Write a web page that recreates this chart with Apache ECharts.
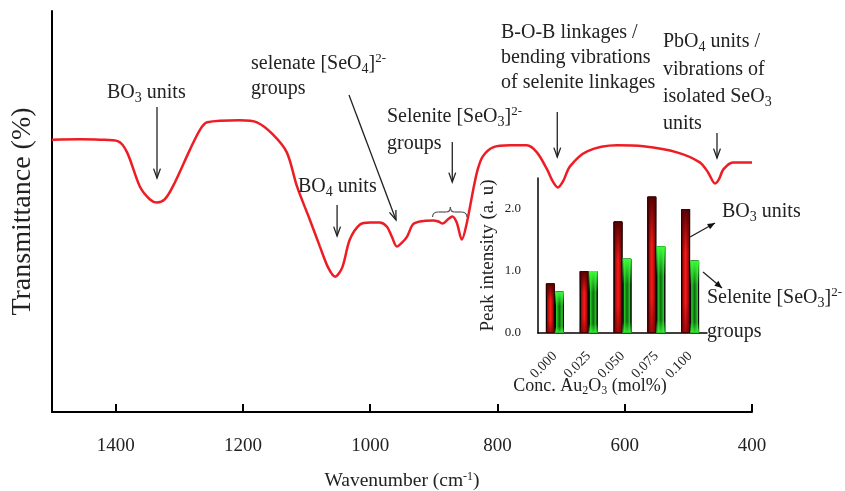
<!DOCTYPE html>
<html><head><meta charset="utf-8">
<script src="https://cdn.jsdelivr.net/npm/echarts@6/dist/echarts.min.js"></script>
<style>html,body{margin:0;padding:0;background:#fff}#c{width:845px;height:491px}</style>
</head><body><div id="c"></div>
<script>
// FTIR spectrum (wavenumber in cm-1, transmittance in arbitrary %)
const wavenumbers = [1500,1456,1425,1396,1382,1362,1346,1335,1323,1310,1283,1267,1256,1205,1178,1153,1131,1115,1095,1079,1066,1055,1044,1032,1016,1000,985,974,966,958,950,942,933,922,901,893,886,878,871,864,856,848,838,831,823,807,780,754,738,722,713,705,697,686,659,612,571,518,482,469,458,452,445,430,400];
const transmittance = [67.9,68,67.9,67.5,64.75,56.25,53,52.25,53,56.25,65.5,70.5,72.25,72.75,72.25,69.25,64.75,56.25,48,41.25,36,33.75,36,43,46.75,47.25,47.25,46.25,43.75,41.25,42.25,43.75,46.75,47.5,47.75,47.5,47,48,48.75,47.25,43,47.25,55.5,60.5,63.75,66,66.5,66.5,64.75,60.5,57.5,56,57.5,61.25,65,66.5,66.25,64.75,62.25,59.75,57,58,60.5,62.25,62.25];
const xTickLabels = ['400','600','800','1000','1200','1400'];

// Inset bar chart
const concLabels = ['0.000','0.025','0.050','0.075','0.100'];
const bo3Intensity = [0.8,1.0,1.8,2.2,2.0];
const seo3Intensity = [0.67,1.0,1.2,1.4,1.17];

const FONT = 'Liberation Serif';
const chart = echarts.init(document.getElementById('c'), null, {renderer:'canvas'});
const G = echarts.graphic;

const redBase = new G.LinearGradient(0,0,1,0,[{offset:0,color:'#6a0000'},{offset:0.5,color:'#ff1a1a'},{offset:1,color:'#6a0000'}]);
const redOver = new G.LinearGradient(0,0,0,1,[{offset:0,color:'rgba(80,0,0,0.95)'},{offset:0.35,color:'rgba(80,0,0,0)'},{offset:0.75,color:'rgba(90,0,0,0)'},{offset:1,color:'rgba(110,0,0,0.6)'}]);
const greenBase = new G.LinearGradient(0,0,1,0,[{offset:0,color:'#3cff3c'},{offset:0.5,color:'#0b6a0b'},{offset:1,color:'#3cff3c'}]);
const greenOver = new G.LinearGradient(0,0,0,1,[{offset:0,color:'rgba(60,255,60,1)'},{offset:0.35,color:'rgba(60,255,60,0)'},{offset:0.85,color:'rgba(60,255,60,0)'},{offset:1,color:'rgba(60,255,60,0.8)'}]);

const rich = {
  sub:{fontSize:14, fontFamily:FONT, verticalAlign:'bottom', lineHeight:15, fill:'#222'},
  sup:{fontSize:13, fontFamily:FONT, verticalAlign:'top', lineHeight:12, fill:'#222'}
};

chart.setOption({
  animation:false,
  backgroundColor:'#fff',
  grid:[
    {left:52, right:93, top:11, bottom:79, containLabel:false, outerBoundsMode:'none'},
    {left:538, width:169, top:178, height:155, containLabel:false, outerBoundsMode:'none'}
  ],
  xAxis:[
    {type:'value', gridIndex:0, min:400, max:1500, interval:200, inverse:true,
     axisLine:{lineStyle:{color:'#000', width:2}},
     axisTick:{inside:true, length:8, lineStyle:{color:'#000', width:2}},
     axisLabel:{fontSize:19, fontFamily:FONT, color:'#222', margin:25, showMaxLabel:false,
       formatter:v=>xTickLabels.includes(String(v))?String(v):''},
     splitLine:{show:false},
     name:'Wavenumber (cm{sup|-1})', nameLocation:'middle', nameGap:59,
     nameTextStyle:{fontSize:19.5, fontFamily:FONT, color:'#222', rich:{sup:{fontSize:12, fontFamily:FONT, color:'#222', verticalAlign:'top', lineHeight:11}}}
    },
    {type:'category', gridIndex:1, data:concLabels,
     axisLine:{lineStyle:{color:'#000', width:1.5}}, axisTick:{show:false},
     axisLabel:{rotate:45, fontSize:14, fontFamily:FONT, color:'#222', margin:21}},
    {type:'category', gridIndex:1, data:concLabels, show:false}
  ],
  yAxis:[
    {type:'value', gridIndex:0, min:0, max:100,
     axisLine:{show:true, lineStyle:{color:'#000', width:2}}, axisTick:{show:false}, axisLabel:{show:false}, splitLine:{show:false},
     name:'Transmittance (%)', nameLocation:'middle', nameGap:15,
     nameTextStyle:{fontSize:28, fontFamily:FONT, color:'#222'}},
    {type:'value', gridIndex:1, min:0, max:2.5, interval:1,
     axisLine:{show:true, lineStyle:{color:'#000', width:1.5}}, axisTick:{show:false},
     axisLabel:{fontSize:13, fontFamily:FONT, color:'#222', margin:17, showMaxLabel:false, formatter:v=>v.toFixed(1)},
     splitLine:{show:false},
     name:'Peak intensity (a. u)', nameLocation:'middle', nameGap:40,
     nameTextStyle:{fontSize:19, fontFamily:FONT, color:'#222'}}
  ],
  series:[
    {type:'line', xAxisIndex:0, yAxisIndex:0, data:wavenumbers.map((w,i)=>[w,transmittance[i]]),
     smooth:0.3, showSymbol:false, lineStyle:{color:'#ee1c24', width:2.5}, z:3},
    {type:'bar', xAxisIndex:1, yAxisIndex:1, data:bo3Intensity, barWidth:9, barGap:'0%',
     itemStyle:{color:redBase, borderColor:'#000', borderWidth:1}},
    {type:'bar', xAxisIndex:1, yAxisIndex:1, data:seo3Intensity, barWidth:9, barGap:'0%',
     itemStyle:{color:greenBase, borderColor:'#000', borderWidth:1}},
    {type:'bar', xAxisIndex:2, yAxisIndex:1, data:bo3Intensity, barWidth:9, barGap:'0%', z:3,
     itemStyle:{color:redOver}},
    {type:'bar', xAxisIndex:2, yAxisIndex:1, data:seo3Intensity, barWidth:9, barGap:'0%', z:3,
     itemStyle:{color:greenOver}}
  ]
});

// Annotations
const px = w => chart.convertToPixel({xAxisIndex:0}, w);
function txt(x, y, text, size, align){
  return {type:'text', z:10, style:{x:x, y:y, text:text, fontSize:size||20, fontFamily:FONT, fill:'#222',
    verticalAlign:'middle', align:align||'left', lineHeight:24, rich:rich}};
}
function arrow(x1,y1,x2,y2,filled){
  const a = Math.atan2(y2-y1, x2-x1), L = filled?8:10, s = filled?0.4:0.35;
  const p1 = [x2 - L*Math.cos(a-s), y2 - L*Math.sin(a-s)];
  const p2 = [x2 - L*Math.cos(a+s), y2 - L*Math.sin(a+s)];
  const els = [{type:'line', z:10, shape:{x1:x1,y1:y1,x2:x2,y2:y2}, style:{stroke:'#222', lineWidth:1.3}}];
  if (filled) els.push({type:'polygon', z:10, shape:{points:[[x2,y2],p1,p2]}, style:{fill:'#111'}});
  else els.push({type:'polyline', z:10, shape:{points:[p1,[x2,y2],p2]}, style:{stroke:'#222', lineWidth:1.3, fill:null}});
  return els;
}
const els = [];
els.push(txt(107,93,'BO{sub|3} units'));
els.push(txt(251,64,'selenate [SeO{sub|4}]{sup|2-}'));
els.push(txt(251,89,'groups'));
els.push(txt(298,187,'BO{sub|4} units'));
els.push(txt(387,117,'Selenite [SeO{sub|3}]{sup|2-}'));
els.push(txt(387,144,'groups'));
els.push(txt(501,33,'B-O-B linkages /'));
els.push(txt(501,58,'bending vibrations'));
els.push(txt(501,83,'of selenite linkages'));
els.push(txt(663,42,'PbO{sub|4} units /'));
els.push(txt(663,70,'vibrations of'));
els.push(txt(663,97,'isolated SeO{sub|3}'));
els.push(txt(663,124,'units'));
// inset labels
els.push(txt(722,212,'BO{sub|3} units'));
els.push(txt(707,298,'Selenite [SeO{sub|3}]{sup|2-}'));
els.push(txt(707,332,'groups'));
els.push({type:'text', z:10, style:{x:590, y:386, text:'Conc. Au{sub|2}O{sub|3} (mol%)', fontSize:18, fontFamily:FONT, fill:'#222', align:'center', verticalAlign:'middle', lineHeight:22,
  rich:{sub:{fontSize:12, fontFamily:FONT, verticalAlign:'bottom', lineHeight:13, fill:'#222'}}}});

// vertical arrows
[[1335,107,178],[1052,205,236],[871,142,182],[706,112,157],[455,133,158]].forEach(a=>{
  const x = px(a[0]); els.push(...arrow(x,a[1],x,a[2],false));
});
els.push(...arrow(349,95,396,220,false));
// inset arrows
els.push(...arrow(690,237,715,223,true));
els.push(...arrow(703,272,722,288,true));
// brace over the selenite doublet
const bx1 = px(902), bx2 = px(848), bm = px(874);
const bs = {stroke:'#555', lineWidth:1.2, fill:null};
els.push({type:'bezierCurve', z:10, shape:{x1:bx1,y1:217,cpx1:bx1,cpy1:212,x2:bx1+6,y2:212}, style:bs});
els.push({type:'line', z:10, shape:{x1:bx1+6,y1:212,x2:bm-4,y2:212}, style:bs});
els.push({type:'bezierCurve', z:10, shape:{x1:bm-4,y1:212,cpx1:bm,cpy1:212,x2:bm,y2:207}, style:bs});
els.push({type:'bezierCurve', z:10, shape:{x1:bm,y1:207,cpx1:bm,cpy1:212,x2:bm+4,y2:212}, style:bs});
els.push({type:'line', z:10, shape:{x1:bm+4,y1:212,x2:bx2-6,y2:212}, style:bs});
els.push({type:'bezierCurve', z:10, shape:{x1:bx2-6,y1:212,cpx1:bx2,cpy1:212,x2:bx2,y2:217}, style:bs});
chart.setOption({graphic:{elements:els}});
</script>
</body></html>
